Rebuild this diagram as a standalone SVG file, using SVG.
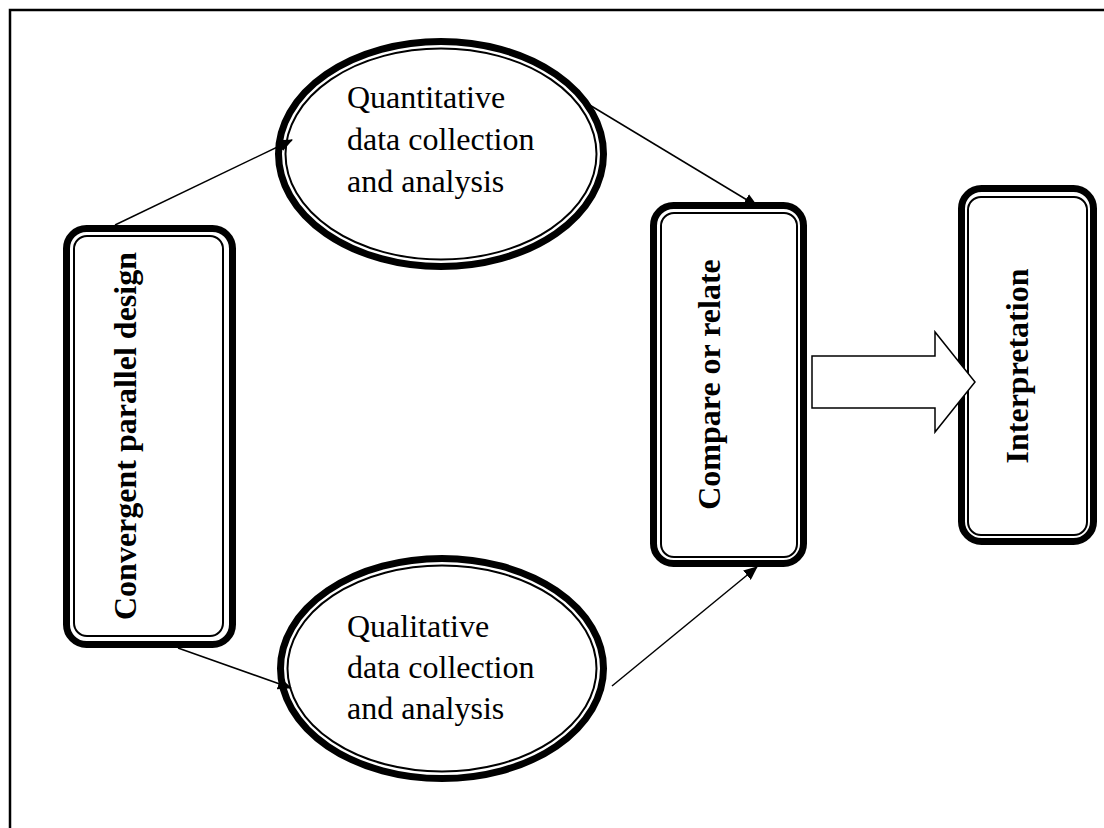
<svg xmlns="http://www.w3.org/2000/svg" width="1104" height="828" viewBox="0 0 1104 828">
<style>
.outer{fill:#fff;stroke:#000;stroke-width:7}
.inner{fill:none;stroke:#000;stroke-width:2}
.lbl{font-family:"Liberation Serif","Times New Roman",serif;font-size:32px;fill:#000}
.bold{font-weight:bold;text-anchor:middle}
.conn{stroke:#000;stroke-width:1.5;fill:none}
</style>
<defs>
<marker id="ah" markerUnits="userSpaceOnUse" markerWidth="14" markerHeight="12" refX="13" refY="6" orient="auto">
<path d="M0,0 L14,6 L0,12 Z" fill="#000"/>
</marker>
</defs>
<rect width="1104" height="828" fill="#fff"/>
<path d="M10,828 V10 H1104" fill="none" stroke="#000" stroke-width="2.5"/>

<g id="node-convergent">
<rect class="outer" x="66.5" y="228.5" width="166" height="416" rx="20"/>
<rect class="inner" x="74" y="236" width="149" height="400" rx="13"/>
<text class="lbl bold" transform="translate(136,436) rotate(-90)">Convergent parallel design</text>
</g>

<g id="node-quantitative">
<ellipse class="outer" cx="441" cy="154" rx="162.5" ry="112.5"/>
<ellipse class="inner" cx="441" cy="154" rx="155.5" ry="105.5"/>
<text class="lbl" x="347" y="108">Quantitative</text>
<text class="lbl" x="347" y="150">data collection</text>
<text class="lbl" x="347" y="192">and analysis</text>
</g>

<g id="node-qualitative">
<ellipse class="outer" cx="442" cy="668.5" rx="161.5" ry="110"/>
<ellipse class="inner" cx="442" cy="668.5" rx="154.5" ry="103"/>
<text class="lbl" x="347" y="637">Qualitative</text>
<text class="lbl" x="347" y="678">data collection</text>
<text class="lbl" x="347" y="719">and analysis</text>
</g>

<g id="node-compare">
<rect class="outer" x="653.5" y="205.5" width="150" height="358" rx="20"/>
<rect class="inner" x="661" y="213" width="136" height="344" rx="13"/>
<text class="lbl bold" transform="translate(720,384.5) rotate(-90)">Compare or relate</text>
</g>

<g id="node-interpretation">
<rect class="outer" x="961.5" y="188.5" width="132" height="353" rx="20"/>
<rect class="inner" x="968" y="197" width="119" height="338" rx="13"/>
<text class="lbl bold" transform="translate(1028,366) rotate(-90)">Interpretation</text>
</g>

<g id="block-arrow">
<polygon points="812,356 935,356 935,332 975,382 935,432 935,408 812,408" fill="#fff" stroke="#000" stroke-width="1.5"/>
</g>

<g id="connectors">
<line class="conn" x1="115" y1="225" x2="292" y2="140" marker-end="url(#ah)"/>
<line class="conn" x1="583" y1="101" x2="757" y2="206" marker-end="url(#ah)"/>
<line class="conn" x1="178" y1="648" x2="291" y2="688" marker-end="url(#ah)"/>
<line class="conn" x1="612" y1="686" x2="757" y2="567" marker-end="url(#ah)"/>
</g>
</svg>
